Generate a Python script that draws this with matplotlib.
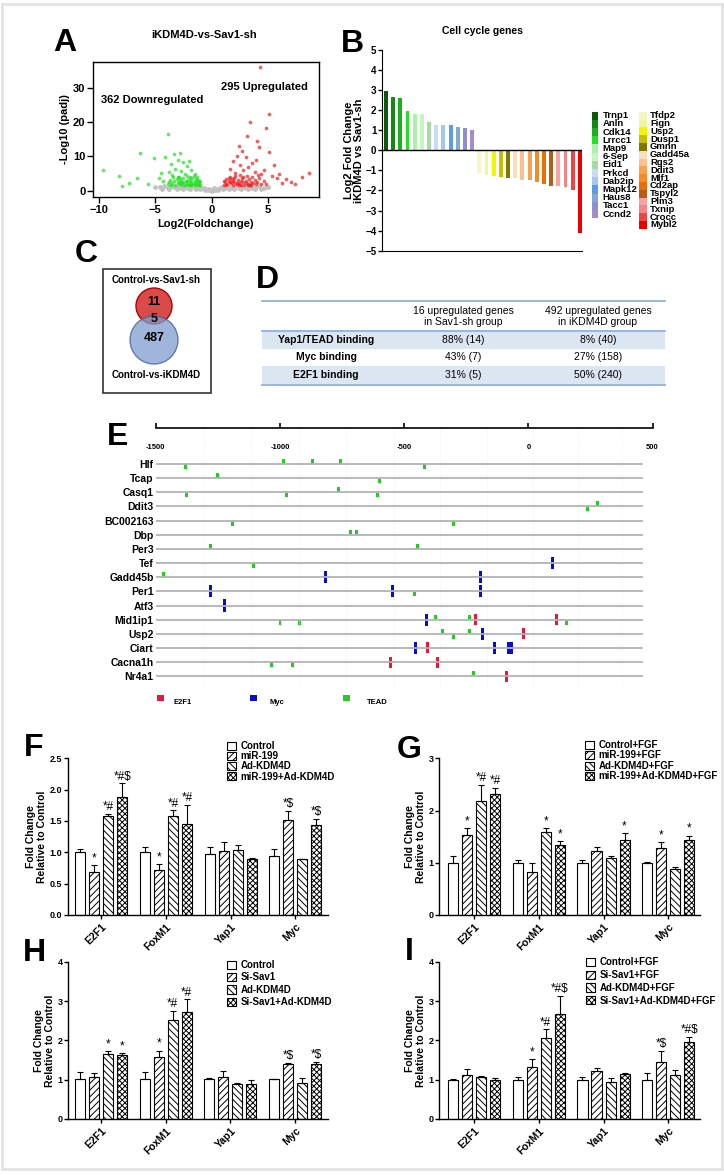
import numpy as np
import matplotlib.pyplot as plt
from matplotlib.patches import Circle, Rectangle
from matplotlib.ticker import FormatStrFormatter

# ---------------- data ----------------
# A: volcano plot (log2 fold change, -log10 padj)
down_x = [-9.6, -8.2, -7.3, -6.3, -6.6, -5.1, -4.7, -3.9, -4.1, -4.5, -5.6, -7.9, -3.3, -2.8,
          -3.0, -2.5, -3.6, -2.2, -3.2, -1.8, -2.7, -3.8, -1.5, -2.4, -3.5, -2.0, -4.3,
          -3.9, -3.7, -3.5, -3.4, -3.2, -3.1, -3.0, -2.9, -2.8, -2.7, -2.6, -2.5, -2.4, -2.3,
          -2.2, -2.1, -2.0, -1.9, -1.8, -1.7, -1.6, -1.5, -1.4, -1.3, -1.2, -1.1, -1.05, -1.3,
          -1.6, -2.0, -2.6, -3.3, -1.9, -1.2, -1.8, -1.5, -3.6, -2.9, -2.2, -1.4, -1.1, -2.5,
          -3.0, -1.7, -2.3, -3.8, -1.0, -2.8]
down_y = [6.1, 4.4, 2.2, 10.9, 3.7, 9.5, 3.7, 16.5, 9.9, 5.1, 1.9, 1.3, 10.6, 10.9,
          9.0, 8.3, 7.8, 7.1, 6.4, 6.2, 5.7, 5.4, 5.0, 4.9, 4.6, 8.8, 3.0,
          2.0, 3.1, 2.4, 4.0, 1.8, 3.5, 2.6, 4.1, 1.9, 3.0, 2.3, 3.8, 1.7, 2.8,
          4.4, 2.0, 3.3, 2.5, 1.8, 3.6, 2.2, 2.9, 1.9, 2.5, 3.2, 2.1, 1.7, 3.9,
          4.3, 1.6, 1.6, 2.9, 3.9, 1.6, 2.9, 1.6, 1.7, 2.2, 3.0, 3.4, 2.6, 2.6,
          3.9, 2.0, 1.9, 2.7, 2.9, 3.4]
up_x = [4.3, 3.4, 5.1, 4.8, 4.2, 5.1, 5.5, 3.9, 8.6, 8.0, 7.0, 6.2, 2.7, 3.0, 2.2, 3.6,
        2.5, 1.9, 3.2, 4.6, 2.8, 1.6, 3.8, 4.4, 5.8, 6.6, 7.4, 5.3, 2.1, 4.0, 3.1, 2.4, 6.0,
        1.1, 1.2, 1.3, 1.4, 1.5, 1.6, 1.7, 1.8, 1.9, 2.0, 2.1, 2.2, 2.3, 2.4, 2.5, 2.6,
        2.7, 2.8, 2.9, 3.0, 3.1, 3.2, 3.3, 3.4, 3.5, 3.6, 3.7, 3.8, 3.9, 4.0, 4.2, 4.4,
        4.6, 4.8, 1.3, 1.6, 2.0, 2.4, 2.8, 3.2, 1.9, 2.6, 3.5, 1.1, 2.2, 3.0, 1.5, 4.1]
up_y = [36.0, 20.0, 22.5, 18.2, 12.8, 11.4, 7.5, 9.0, 5.1, 4.1, 2.7, 2.2, 11.5, 9.8, 10.2, 8.2,
        7.6, 8.6, 6.8, 6.0, 6.0, 6.4, 5.6, 4.8, 3.6, 3.3, 2.0, 4.2, 5.3, 14.5, 16.0, 13.0, 5.0,
        1.7, 2.6, 3.4, 1.9, 2.9, 4.1, 2.2, 3.3, 1.7, 2.6, 4.3, 1.9, 3.1, 2.3, 4.6, 1.8,
        3.6, 2.5, 1.7, 3.0, 4.2, 2.1, 3.4, 1.8, 2.7, 3.9, 2.2, 3.2, 1.9, 2.6, 3.7, 2.1,
        2.9, 1.9, 1.6, 2.5, 3.7, 1.6, 4.0, 1.6, 2.9, 2.9, 1.6, 3.0, 2.4, 2.4, 3.8, 4.5]
ns_x = [-5.0, -4.6, -4.2, -3.9, -3.6, -3.3, -3.0, -2.7, -2.4, -2.1, -1.8, -1.5, -1.2, -0.9,
        -0.7, -0.5, -0.3, 0.0, 0.3, 0.5, 0.7, 0.9, 1.2, 1.5, 1.8, 2.1, 2.4, 2.7, 3.0, 3.3,
        3.6, 3.9, 4.2, 4.6, 5.0, -4.4, -3.8, -3.1, -2.5, -1.9, -1.4, -1.0, -0.6, 0.6, 1.0,
        1.5, 2.0, 2.6, 3.2, 3.8, 4.4, -0.2, 0.2, -0.1, 0.1]
ns_y = [1.2, 1.0, 1.4, 0.9, 1.3, 1.0, 1.4, 0.8, 1.2, 0.9, 1.3, 0.8, 1.0, 0.7,
        0.9, 0.4, 0.2, 0.05, 0.2, 0.5, 0.8, 1.0, 0.8, 1.2, 0.9, 1.3, 0.8, 1.1, 0.9, 1.3,
        0.8, 1.0, 1.3, 0.9, 1.1, 0.6, 0.5, 0.6, 0.5, 0.6, 0.5, 0.4, 0.2, 0.3, 0.5,
        0.4, 0.6, 0.5, 0.5, 0.6, 0.5, 0.6, 0.7, 0.3, 0.1]

# B: cell cycle genes
cc_up_genes = ['Trnp1', 'Anln', 'Cdk14', 'Lrrcc1', 'Map9', '6-Sep', 'Eid1', 'Prkcd',
               'Dab2ip', 'Mapk12', 'Haus8', 'Tacc1', 'Ccnd2']
cc_up_values = [2.97, 2.68, 2.62, 1.98, 1.83, 1.82, 1.43, 1.25, 1.25, 1.25, 1.17, 1.10, 1.02]
cc_up_colors = ['#0b5a0b', '#138a13', '#1fae1f', '#22e022', '#aaf0aa', '#c4f7c4', '#a9d9a9',
                '#c9dcf5', '#a6c6f2', '#5b9bea', '#88a6d6', '#8a8fd6', '#a98acb']
cc_down_genes = ['Tfdp2', 'Fign', 'Usp2', 'Dusp1', 'Gmnn', 'Gadd45a', 'Rgs2', 'Ddit3', 'Mlf1',
                 'Cd2ap', 'Tspyl2', 'Plm3', 'Txnip', 'Crocc', 'Mybl2']
cc_down_values = [-1.15, -1.23, -1.27, -1.35, -1.40, -1.40, -1.48, -1.48, -1.58, -1.67,
                  -1.80, -1.80, -1.85, -2.00, -4.10]
cc_down_colors = ['#f6f6c2', '#f5f59a', '#f5f500', '#c8bd00', '#7f7700', '#fcdcbc', '#fbc08c',
                  '#f9a14e', '#f88a24', '#ee6c06', '#b85e12', '#f7a3a3', '#f78484', '#ef4444',
                  '#ee0000']

# C: Venn counts
venn_sets = ['Control-vs-Sav1-sh', 'Control-vs-iKDM4D']
venn_counts = [11, 5, 487]

# D: binding table
d_header = ['16 upregulated genes\nin Sav1-sh group', '492 upregulated genes\nin iKDM4D group']
d_rows = ['Yap1/TEAD binding', 'Myc binding', 'E2F1 binding']
d_sav1 = ['88% (14)', '43% (7)', '31% (5)']
d_kdm4d = ['8% (40)', '27% (158)', '50% (240)']

# E: promoter binding sites (bp from TSS)
e_genes = ['Hlf', 'Tcap', 'Casq1', 'Ddit3', 'BC002163', 'Dbp', 'Per3', 'Tef', 'Gadd45b',
           'Per1', 'Atf3', 'Mid1ip1', 'Usp2', 'Ciart', 'Cacna1h', 'Nr4a1']
tead_row = [0, 0, 0, 0, 0, 1, 1, 2, 2, 2, 2, 3, 3, 4, 4, 5, 5, 6, 6, 7, 8, 9,
            11, 11, 11, 11, 11, 12, 12, 12, 14, 14, 15]
tead_pos = [-986, -869, -756, -1380, -418, -1253, -598, -1377, -974, -766, -609, 280, 239,
            -1191, -300, -715, -694, -1279, -447, -1106, -1468, -458,
            -1000, -923, -373, -239, 152, -345, -303, -239, -1034, -949, -221]
tead_side = [1, 1, 1, -1, -1, 1, -1, -1, -1, 1, -1, 1, -1, -1, -1, 1, 1, 1, 1, -1, 1, -1,
             -1, -1, 1, 1, -1, 1, -1, 1, -1, -1, 1]
myc_row = [7, 8, 8, 9, 9, 9, 10, 11, 12, 13, 13, 13, 13]
myc_pos = [96, -816, -194, -1280, -547, -191, -1224, -412, -183, -455, -138, -80, -67]
e2f1_row = [11, 11, 12, 13, 14, 14, 15]
e2f1_pos = [-212, 112, -21, -407, -556, -364, -88]

# F-I: qPCR fold change
fi_genes = ['E2F1', 'FoxM1', 'Yap1', 'Myc']

f_names = ['Control', 'miR-199', 'Ad-KDM4D', 'miR-199+Ad-KDM4D']
f_means = [[1.00, 1.00, 0.97, 0.94], [0.68, 0.71, 1.02, 1.51],
           [1.58, 1.58, 1.04, 0.89], [1.88, 1.45, 0.89, 1.44]]
f_errs = [[0.05, 0.08, 0.12, 0.11], [0.11, 0.10, 0.15, 0.15],
          [0.03, 0.09, 0.07, 0.01], [0.22, 0.31, 0.02, 0.09]]
f_marks = [['', '', '', ''], ['*', '*', '', '*$'],
           ['*#', '*#', '', ''], ['*#$', '*#', '', '*$']]

g_names = ['Control+FGF', 'miR-199+FGF', 'Ad-KDM4D+FGF', 'miR-199+Ad-KDM4D+FGF']
g_means = [[1.00, 1.00, 1.00, 1.00], [1.53, 0.82, 1.22, 1.28],
           [2.19, 1.58, 1.09, 0.89], [2.31, 1.34, 1.43, 1.43]]
g_errs = [[0.12, 0.05, 0.06, 0.01], [0.13, 0.17, 0.08, 0.12],
          [0.30, 0.09, 0.04, 0.03], [0.12, 0.07, 0.14, 0.09]]
g_marks = [['', '', '', ''], ['*', '', '', '*'],
           ['*#', '*', '', ''], ['*#', '*', '*', '*']]

h_names = ['Control', 'Si-Sav1', 'Ad-KDM4D', 'Si-Sav1+Ad-KDM4D']
h_means = [[1.02, 1.02, 1.01, 1.01], [1.08, 1.57, 1.06, 1.40],
           [1.65, 2.53, 0.89, 0.92], [1.62, 2.72, 0.88, 1.41]]
h_errs = [[0.17, 0.17, 0.02, 0.01], [0.09, 0.17, 0.15, 0.02],
          [0.08, 0.22, 0.02, 0.12], [0.05, 0.32, 0.12, 0.05]]
h_marks = [['', '', '', ''], ['', '*', '', '*$'],
           ['*', '*#', '', ''], ['*', '*#', '', '*$']]

i_names = ['Control+FGF', 'Si-Sav1+FGF', 'Ad-KDM4D+FGF', 'Si-Sav1+Ad-KDM4D+FGF']
i_means = [[1.00, 1.00, 1.00, 1.00], [1.12, 1.33, 1.22, 1.46],
           [1.08, 2.06, 0.94, 1.11], [1.00, 2.67, 1.14, 1.96]]
i_errs = [[0.01, 0.08, 0.07, 0.17], [0.14, 0.19, 0.08, 0.27],
          [0.01, 0.22, 0.10, 0.13], [0.03, 0.47, 0.03, 0.13]]
i_marks = [['', '', '', ''], ['', '*', '', '*$'],
           ['', '*#', '', ''], ['', '*#$', '', '*#$']]

# ---------------- plot ----------------
W, H = 724, 1175
plt.rcParams['font.family'] = ['Liberation Sans', 'DejaVu Sans']
plt.rcParams['font.weight'] = 'bold'
plt.rcParams['axes.labelweight'] = 'bold'
plt.rcParams['hatch.linewidth'] = 0.7

fig = plt.figure(figsize=(W / 100, H / 100), dpi=100)


def px_axes(l, t, r, b):
    # axes placed by pixel box (left, top, right, bottom)
    return fig.add_axes([l / W, 1 - b / H, (r - l) / W, (b - t) / H])


# overlay in pixel coordinates for frames, legends, venn and table
ov = fig.add_axes([0, 0, 1, 1])
ov.set_xlim(0, W)
ov.set_ylim(H, 0)
ov.axis('off')
ov.add_patch(Rectangle((2, 3.5), 719.5, 1165, fill=False, ec='#e3e3e3', lw=2))

panel_letters = {'A': (65, 43), 'B': (352, 44), 'C': (86, 254), 'D': (267, 280),
                 'E': (118, 437), 'F': (34, 748), 'G': (409, 750), 'H': (34, 953),
                 'I': (409, 952)}
for letter, (lx, ly) in panel_letters.items():
    ov.text(lx, ly, letter, fontsize=23, ha='center', va='center')

# ---- A ----
axA = px_axes(93, 62, 319, 197)
axA.scatter(ns_x, ns_y, s=12, c='#c2c2c2', lw=0)
axA.scatter(down_x, down_y, s=7, c='#22dd22', alpha=0.7, lw=0)
axA.scatter(up_x, up_y, s=7, c='#ee1c1c', alpha=0.7, lw=0)
axA.set_xlim(-10.5, 9.5)
axA.set_ylim(-1.8, 37.5)
axA.set_xticks([-10, -5, 0, 5])
axA.set_yticks([0, 10, 20, 30])
axA.tick_params(direction='out', length=4, width=1, labelsize=8, pad=1.5)
for sp in axA.spines.values():
    sp.set_linewidth(1)
axA.set_xlabel('Log2(Foldchange)', fontsize=8, labelpad=3)
axA.set_ylabel('-Log10 (padj)', fontsize=8, labelpad=2)
axA.text(-9.8, 26.4, '362 Downregulated', fontsize=8, va='center')
axA.text(0.8, 30.1, '295 Upregulated', fontsize=8, va='center')
ov.text(204, 35, 'iKDM4D-vs-Sav1-sh', fontsize=8, ha='center', va='center')

# ---- B ----
axB = px_axes(382, 50, 582, 250.7)
cc_values = cc_up_values + cc_down_values
cc_colors = cc_up_colors + cc_down_colors
axB.bar(np.arange(len(cc_values)), cc_values, width=0.55, color=cc_colors, lw=0)
axB.axhline(0, color='black', lw=1)
axB.set_xlim(-0.55, len(cc_values) - 0.7)
axB.set_ylim(-5, 5)
axB.set_yticks(range(-5, 6))
axB.set_xticks([])
axB.spines['top'].set_visible(False)
axB.spines['right'].set_visible(False)
axB.tick_params(axis='y', length=3, width=1, labelsize=7, pad=1)
axB.set_ylabel('Log2 Fold Change\niKDM4D vs Sav1-sh', fontsize=8, labelpad=1, linespacing=1.0)
ov.text(482, 31, 'Cell cycle genes', fontsize=7.5, ha='center', va='center')
for i, (g, c) in enumerate(zip(cc_up_genes, cc_up_colors)):
    yy = 115.7 + 8.2 * i
    ov.add_patch(Rectangle((591.7, yy - 4.1), 6.6, 8.2, color=c, lw=0))
    ov.text(602.7, yy, g, fontsize=6.8, va='center')
for i, (g, c) in enumerate(zip(cc_down_genes, cc_down_colors)):
    yy = 115.7 + 7.8 * i
    ov.add_patch(Rectangle((639.3, yy - 3.9), 7.4, 7.8, color=c, lw=0))
    ov.text(650, yy, g, fontsize=6.8, va='center')

# ---- C ----
ov.add_patch(Rectangle((103, 269), 107.5, 124, fill=False, ec='#333333', lw=1.2))
ov.add_patch(Circle((154, 306), 18, fc='#d94a4a', ec='#b00000', lw=1))
ov.add_patch(Circle((154, 340), 24, fc='#7f9ccf', ec='#3d5f96', lw=1, alpha=0.75))
ov.text(156, 280, venn_sets[0], fontsize=7, ha='center', va='center')
ov.text(156, 375, venn_sets[1], fontsize=7, ha='center', va='center')
ov.text(154, 302, str(venn_counts[0]), fontsize=9, ha='center', va='center')
ov.text(154, 319, str(venn_counts[1]), fontsize=9, ha='center', va='center')
ov.text(154, 338, str(venn_counts[2]), fontsize=9, ha='center', va='center')

# ---- D ----
tl, tr = 262, 665
row_top = [331, 348.3, 366]
row_h = 17.7
for k in (0, 2):
    ov.add_patch(Rectangle((tl, row_top[k]), tr - tl, row_h, color='#dce6f2', lw=0))
for yy in (300.7, 331, 384.7):
    ov.plot([tl, tr], [yy, yy], color='#8eb2df', lw=1.3)
col_x = [326, 463.5, 598]
for hx, htxt in zip(col_x[1:], d_header):
    ov.text(hx, 316.5, htxt, fontsize=7.5, weight='normal', ha='center', va='center',
            linespacing=1.15)
for k in range(3):
    yy = row_top[k] + row_h / 2
    ov.text(col_x[0], yy, d_rows[k], fontsize=7.5, ha='center', va='center')
    ov.text(col_x[1], yy, d_sav1[k], fontsize=7.5, weight='normal', ha='center', va='center')
    ov.text(col_x[2], yy, d_kdm4d[k], fontsize=7.5, weight='normal', ha='center', va='center')

# ---- E ----
row0, rstep = 464, 14.15
axE = px_axes(155.8, 428, 652.6, 690)
axE.set_xlim(-1500, 500)
axE.set_ylim((690 - row0) / rstep, -(row0 - 428) / rstep)
for gx in [-1305, -1115, -925, -735, -540, -355, -165, 20, 200, 375]:
    axE.axvline(gx, color='#ececec', lw=0.6, ls=':')
axE.hlines(range(len(e_genes)), -1500, 463, color='#b3b3b3', lw=1.3)
tead_c = [r - 0.19 * s for r, s in zip(tead_row, tead_side)]
axE.bar(tead_pos, 0.33, bottom=[c - 0.165 for c in tead_c], width=12, color='#22cc22', lw=0)
axE.bar(myc_pos, 0.86, bottom=[r - 0.43 for r in myc_row], width=12, color='#0a0ad6', lw=0)
axE.bar(e2f1_pos, 0.78, bottom=[r - 0.39 for r in e2f1_row], width=12, color='#e8173c', lw=0)
for side in ('left', 'right', 'bottom'):
    axE.spines[side].set_visible(False)
axE.spines['top'].set_linewidth(1.2)
axE.set_xticks([-1500, -1000, -500, 0, 500])
axE.tick_params(axis='x', top=True, bottom=False, labeltop=False, labelbottom=False,
                direction='out', length=3.5, width=1.2)
for tx in [-1500, -1000, -500, 0, 500]:
    axE.text(tx, -1.2, str(tx), fontsize=5.5, ha='center', va='center')
axE.set_yticks(range(len(e_genes)))
axE.set_yticklabels(e_genes, fontsize=7.5)
axE.tick_params(axis='y', length=0, pad=1.5)
for (sx, tx, lab, col) in [(157, 173, 'E2F1', '#e8173c'), (250, 269, 'Myc', '#0a0ad6'),
                           (343, 367, 'TEAD', '#22cc22')]:
    ov.add_patch(Rectangle((sx, 695), 6.5, 5.5, color=col, lw=0))
    ov.text(tx, 702.5, lab, fontsize=5.5, va='center')

# ---- F-I ----
hatches = ['', '/////', '\\\\\\\\\\', 'xxxxxx']
offsets = (np.arange(4) - 1.5) * 0.2164


def bar_panel(box, means, errs, marks, names, ymax, ystep, yfmt, leg_xy, leg_space):
    ax = px_axes(*box)
    xg = np.arange(len(fi_genes))
    handles = []
    for k in range(4):
        xs = xg + offsets[k]
        b = ax.bar(xs, means[k], width=0.155, color='white', edgecolor='black',
                   hatch=hatches[k], lw=0.8, zorder=2)
        ax.errorbar(xs, means[k], yerr=[np.zeros(len(xg)), errs[k]], fmt='none',
                    ecolor='black', elinewidth=0.8, capsize=2, capthick=0.8, zorder=3)
        handles.append(b)
        for g in range(len(xg)):
            if marks[k][g]:
                ax.text(xs[g], means[k][g] + errs[k][g] + ymax * 0.005, marks[k][g],
                        fontsize=8.5, weight='normal', ha='center', va='bottom')
    ax.set_ylim(0, ymax)
    ax.set_yticks(np.arange(0, ymax + 1e-6, ystep))
    ax.yaxis.set_major_formatter(FormatStrFormatter(yfmt))
    ax.set_xticks(xg)
    ax.set_xticklabels(fi_genes, rotation=45, ha='right', rotation_mode='anchor', fontsize=7.5)
    ax.spines['top'].set_visible(False)
    ax.spines['right'].set_visible(False)
    for sp in ('left', 'bottom'):
        ax.spines[sp].set_linewidth(1)
    ax.tick_params(axis='y', direction='out', length=3, width=1, labelsize=6.5, pad=1)
    ax.tick_params(axis='x', direction='out', length=3, width=1, pad=2)
    ax.set_ylabel('Fold Change\nRelative to Control', fontsize=7.5, labelpad=2, linespacing=1.05)
    ax.legend(handles, names, loc='upper left', bbox_to_anchor=(leg_xy[0] / W, 1 - leg_xy[1] / H),
              bbox_transform=fig.transFigure, frameon=False, fontsize=7, handlelength=0.9,
              handleheight=0.9, handletextpad=0.5, labelspacing=leg_space, borderpad=0,
              borderaxespad=0)
    return ax


axF = bar_panel((67.7, 758.3, 327.5, 915), f_means, f_errs, f_marks, f_names, 2.5, 0.5, '%.1f',
                (227, 741), 0.02)
axF.set_xlim(-0.52, 3.5)
axG = bar_panel((439.3, 758.3, 700, 915), g_means, g_errs, g_marks, g_names, 3, 1, '%d',
                (585, 740), 0.05)
axG.set_xlim(-0.536, 3.49)
axH = bar_panel((68.3, 961.7, 327.5, 1119), h_means, h_errs, h_marks, h_names, 4, 1, '%d',
                (227, 960), 0.25)
axH.set_xlim(-0.505, 3.5)
axI = bar_panel((439.3, 961.7, 700, 1119), i_means, i_errs, i_marks, i_names, 4, 1, '%d',
                (586, 957), 0.3)
axI.set_xlim(-0.536, 3.49)

fig.savefig('out.png', dpi=100)
